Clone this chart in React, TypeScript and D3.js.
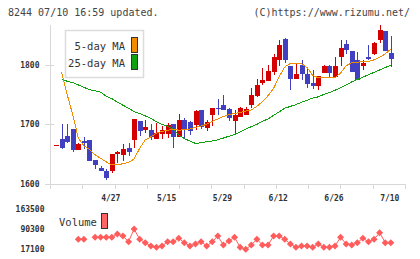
import React from "react";
import * as d3 from "d3";

// trading days shown on the chart
const dates = [
  "4/13", "4/14", "4/15", "4/16", "4/17", "4/20", "4/21", "4/22", "4/23", "4/24",
  "4/27", "4/28", "4/30", "5/1", "5/7", "5/8", "5/11", "5/12", "5/13", "5/14",
  "5/15", "5/18", "5/19", "5/20", "5/21", "5/22", "5/25", "5/26", "5/27", "5/28",
  "5/29", "6/1", "6/2", "6/3", "6/4", "6/5", "6/8", "6/9", "6/10", "6/11",
  "6/12", "6/15", "6/16", "6/17", "6/18", "6/19", "6/22", "6/23", "6/24", "6/25",
  "6/26", "6/29", "6/30", "7/1", "7/2", "7/3", "7/6", "7/7", "7/8", "7/9",
  "7/10",
];
const dateLabels = ["4/27", "5/15", "5/29", "6/12", "6/26", "7/10"];

const open = [
  1664, 1675, 1680, 1692, 1657, 1672, 1674, 1640, 1627, 1622,
  1622, 1651, 1649, 1660, 1674, 1705, 1691, 1690, 1676, 1683,
  1684, 1701, 1679, 1707, 1704, 1699, 1724, 1694, 1716, 1728,
  1732, 1725, 1706, 1713, 1716, 1732, 1748, 1769, 1772, 1788,
  1807, 1843, 1797, 1776, 1799, 1784, 1769, 1764, 1786, 1797,
  1780, 1812, 1834, 1822, 1808, 1798, 1813, 1818, 1841, 1856,
  1820,
];
const high = [
  1665, 1701, 1701, 1692, 1668, 1679, 1674, 1640, 1630, 1625,
  1650, 1656, 1667, 1669, 1709, 1706, 1707, 1700, 1702, 1697,
  1703, 1701, 1717, 1710, 1706, 1724, 1724, 1707, 1728, 1742,
  1749, 1728, 1724, 1729, 1729, 1760, 1776, 1795, 1799, 1818,
  1841, 1845, 1797, 1802, 1808, 1794, 1791, 1781, 1800, 1800,
  1812, 1841, 1841, 1822, 1821, 1808, 1832, 1838, 1866, 1856,
  1848,
];
const low = [
  1664, 1658, 1669, 1654, 1657, 1659, 1639, 1625, 1622, 1607,
  1618, 1636, 1639, 1647, 1661, 1681, 1686, 1674, 1676, 1676,
  1677, 1660, 1679, 1675, 1682, 1690, 1692, 1689, 1697, 1716,
  1724, 1705, 1684, 1713, 1716, 1728, 1746, 1766, 1772, 1782,
  1798, 1802, 1757, 1776, 1774, 1760, 1759, 1757, 1786, 1779,
  1779, 1798, 1818, 1788, 1775, 1791, 1808, 1816, 1837, 1822,
  1796,
];
const close = [
  1665, 1661, 1671, 1657, 1667, 1668, 1639, 1632, 1622, 1610,
  1650, 1654, 1658, 1654, 1709, 1689, 1695, 1679, 1685, 1690,
  1699, 1679, 1707, 1690, 1688, 1722, 1696, 1704, 1728, 1725,
  1724, 1711, 1716, 1728, 1726, 1749, 1766, 1774, 1789, 1812,
  1833, 1808, 1776, 1784, 1785, 1768, 1764, 1781, 1797, 1786,
  1797, 1828, 1824, 1788, 1775, 1803, 1809, 1836, 1858, 1822,
  1809,
];

// moving averages as published (earlier history not shown)
const ma5 = [
  null, 1787, 1750, 1716, 1677, 1664, 1658, 1649, 1643, 1637,
  1632, 1632, 1634, 1636, 1642, 1660, 1674, 1679, 1685, 1688,
  1690, 1692, 1690, 1691, 1692, 1695, 1697, 1700, 1705, 1709,
  1713, 1716, 1718, 1720, 1722, 1724, 1730, 1738, 1748, 1760,
  1780, 1796, 1802, 1802, 1802, 1795, 1782, 1778, 1778, 1778,
  1778, 1786, 1798, 1803, 1804, 1805, 1805, 1808, 1812, 1818,
  1826,
];
const ma25 = [
  null, 1776, 1772, 1770, 1766, 1762, 1758, 1756, 1754, 1747,
  1743, 1737, 1732, 1727, 1721, 1718, 1714, 1710, 1704, 1700,
  1697, 1692, 1682, 1676, 1672, 1668, 1669, 1671, 1672, 1674,
  1677, 1680, 1683, 1687, 1692, 1696, 1700, 1705, 1709, 1715,
  1721, 1727, 1730, 1733, 1737, 1740, 1744, 1746, 1750, 1753,
  1757, 1761, 1766, 1771, 1775, 1779, 1783, 1787, 1791, 1795,
  1799,
];

const volume = [
  null, null, null, null, 52600, 52600, null, 59900, 59900, 59900,
  59900, 72000, 64700, 43800, 90300, 52600, 40200, 28100, 23300, 28100,
  43800, 43800, 56300, 40200, 28100, 35400, 43800, 28100, 43800, 64700,
  31700, 46400, 59900, 23300, 16000, 31700, 52600, 31700, 31700, 64700,
  64700, 52600, 35400, 23300, 28100, 28100, 23300, 35400, 23300, 23300,
  28100, 59900, 35400, 31700, 40200, 56300, 43800, 52600, 76800, 40200,
  40200,
];

const priceTicks = [1600, 1700, 1800];
const volumeTicks = [17100, 90300, 163500];

const UP = "#d40000";
const DOWN = "#4040c0";
const MA5_COLOR = "#f08c00";
const MA25_COLOR = "#10a010";
const VOL_COLOR = "#ff5c5c";
const AXIS = "#d8d8d8";
const TEXT = "#333";
const MONO = "'DejaVu Sans Mono', monospace";

export default function App() {
  const x = d3.scaleLinear().domain([0, dates.length - 1]).range([56, 390.8]);
  const y = d3.scaleLinear().domain([1600, 1800]).range([184, 64.6]);
  const yv = d3.scaleLinear().domain([17100, 163500]).range([249, 209]);
  const grid = d3.scaleLinear().domain([0, 11]).range([50, 405]);

  const maLine = d3
    .line<number | null>()
    .defined((d) => d != null)
    .x((_, i) => x(i))
    .y((d) => y(d as number));

  const volLine = d3
    .line<number | null>()
    .defined((d) => d != null)
    .x((_, i) => x(i))
    .y((d) => yv(d as number));

  const diamond = (cx: number, cy: number) => {
    const r = 3.5;
    return `M${cx},${cy - r}L${cx + r},${cy}L${cx},${cy + r}L${cx - r},${cy}Z`;
  };

  const bodyW = 5;

  return (
    <svg
      width={420}
      height={259}
      style={{ position: "absolute", left: 0, top: 0, background: "#fff" }}
      fontFamily={MONO}
    >
      <text x={8} y={16} fontSize={10} fill="#444">8244 07/10 16:59 updated.</text>
      <text x={410} y={16} fontSize={10} fill="#444" textAnchor="end">(C)https://www.rizumu.net/</text>

      {/* axes */}
      <line x1={50.5} x2={50.5} y1={25} y2={189} stroke={AXIS} />
      <line x1={50} x2={405.5} y1={184.5} y2={184.5} stroke={AXIS} />
      {d3.range(12).map((k) => (
        <line key={k} x1={Math.round(grid(k)) + 0.5} x2={Math.round(grid(k)) + 0.5} y1={184} y2={189} stroke={AXIS} />
      ))}
      {priceTicks.map((t) => (
        <g key={t}>
          <line x1={45} x2={54} y1={Math.round(y(t)) + 0.5} y2={Math.round(y(t)) + 0.5} stroke={AXIS} />
          <text x={39.5} y={y(t) + 3} fontSize={8} fontWeight="bold" fill={TEXT} textAnchor="end">{t}</text>
        </g>
      ))}
      {dateLabels.map((d) => (
        <text key={d} x={x(dates.indexOf(d)) - 1} y={200.5} fontSize={8} fontWeight="bold" fill={TEXT} textAnchor="middle">{d}</text>
      ))}

      {/* candles */}
      <g shapeRendering="crispEdges">
        {dates.map((d, i) => {
          const up = close[i] >= open[i];
          const c = up ? UP : DOWN;
          const top = y(Math.max(open[i], close[i]));
          const bot = y(Math.min(open[i], close[i]));
          const cx = Math.round(x(i));
          return (
            <g key={d}>
              <line x1={cx + 0.5} x2={cx + 0.5} y1={y(high[i])} y2={y(low[i])} stroke={c} />
              <rect x={cx - 2} y={top} width={bodyW} height={Math.max(1.2, bot - top)} fill={c} />
            </g>
          );
        })}
      </g>

      {/* moving averages */}
      <path d={maLine(ma25) || ""} fill="none" stroke={MA25_COLOR} strokeWidth={1} shapeRendering="crispEdges" />
      <path d={maLine(ma5) || ""} fill="none" stroke={MA5_COLOR} strokeWidth={1} shapeRendering="crispEdges" />

      {/* legend */}
      <rect x={65.5} y={30.5} width={78} height={47} fill="#fff" stroke="#dcdcdc" strokeWidth={1.5} />
      <text x={125} y={49.5} fontSize={10.5} fill={TEXT} textAnchor="end">5-day MA</text>
      <text x={125} y={66.5} fontSize={10.5} fill={TEXT} textAnchor="end">25-day MA</text>
      <rect x={131.5} y={37.5} width={6} height={15} fill={MA5_COLOR} stroke="#333" />
      <rect x={131.5} y={54.5} width={6} height={15} fill={MA25_COLOR} stroke="#333" />

      {/* volume */}
      {volumeTicks.map((t) => (
        <text key={t} x={44.5} y={yv(t) + 3} fontSize={8} fontWeight="bold" fill={TEXT} textAnchor="end">{t}</text>
      ))}
      <path d={volLine(volume) || ""} fill="none" stroke={VOL_COLOR} strokeWidth={1} />
      {volume.map((v, i) =>
        v == null ? null : <path key={i} d={diamond(x(i), yv(v))} fill={VOL_COLOR} />
      )}
      <text x={59} y={225.5} fontSize={10.5} fill={TEXT}>Volume</text>
      <rect x={101.5} y={213.5} width={6} height={15} fill="#ff6464" stroke="#333" />
    </svg>
  );
}
